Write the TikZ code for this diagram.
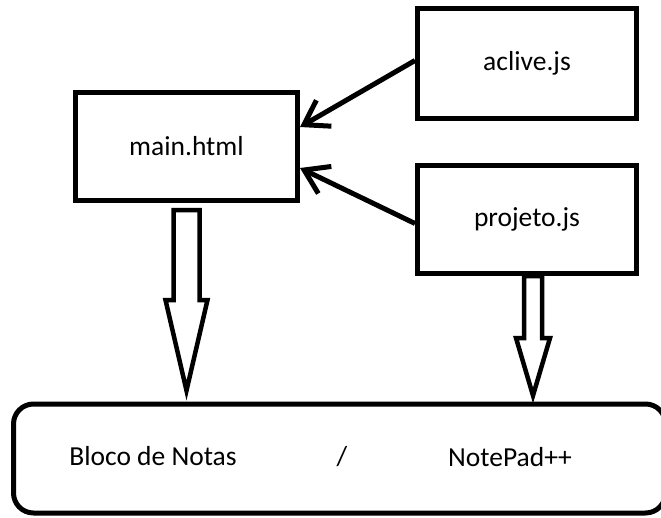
\documentclass[tikz,border=0pt]{standalone}
\usepackage{fontspec}
\setmainfont{Carlito}
\usetikzlibrary{arrows.meta,calc}

% block arrow: top point, tip point, head offset, shaft half width, head half width
\def\blockarrow(#1)(#2)(#3:#4:#5){\draw[block] ($(#1)+(-#4,0)$) -- ($(#1)+(#4,0)$) -- ($(#1)+(#4,#3)$) -- ($(#1)+(#5,#3)$) -- (#2) -- ($(#1)+(-#5,#3)$) -- ($(#1)+(-#4,#3)$) -- cycle;}

\tikzset{
	file/.style={draw, line width=5pt, minimum width=219pt, minimum height=110pt, inner sep=0pt, font=\fontsize{27.5}{32}\selectfont},
	label/.style={anchor=base, inner sep=0pt, font=\fontsize{27.5}{32}\selectfont},
	link/.style={line width=5pt, -{Straight Barb[length=23pt, width=30pt]}},
	block/.style={line width=4.5pt, line join=miter},
}

\begin{document}
\begin{tikzpicture}[x=1pt, y=-1pt]
			%%%%% START %%%%%
			\useasboundingbox (0, 0) rectangle (661, 517);
			
			\node[file, minimum width=222pt, minimum height=108pt] (main) at (186.5, 146.5) {main.html};
			\node[file] (aclive) at (527, 63.5) {aclive.js};
			\node[file, minimum height=108pt] (projeto) at (527, 219.5) {projeto.js};
			
			\node[draw, line width=5pt, rounded corners=20pt, minimum width=652pt, minimum height=109pt] (editor) at (339.5, 458.5) {};
			\node[label] (bloco) at (153, 465) {Bloco de Notas};
			\node[label] (slash) at (342, 465) {/};
			\node[label] (notepad) at (510, 466) {NotePad++};
			
			\draw[link] ($(aclive.west)+(0, -3)$) -- ($(main.east)+(0, -19.5)$);
			\draw[link] ($(projeto.west)+(0, 4)$) -- ($(main.east)+(0, 21.5)$);
			
			\coordinate (ltop) at ($(main.south)+(0, 7)$);
			\coordinate (ltip) at ($(ltop |- editor.north)+(0, -11)$);
			\coordinate (rtop) at ($(projeto.south)+(6, 0)$);
			\coordinate (rtip) at ($(rtop |- editor.north)+(0, -6)$);
			
			\blockarrow(ltop)(ltip)(90:13:21);
			\blockarrow(rtop)(rtip)(62:9:17);
			%%%%% END %%%%%
\end{tikzpicture}
\end{document}
